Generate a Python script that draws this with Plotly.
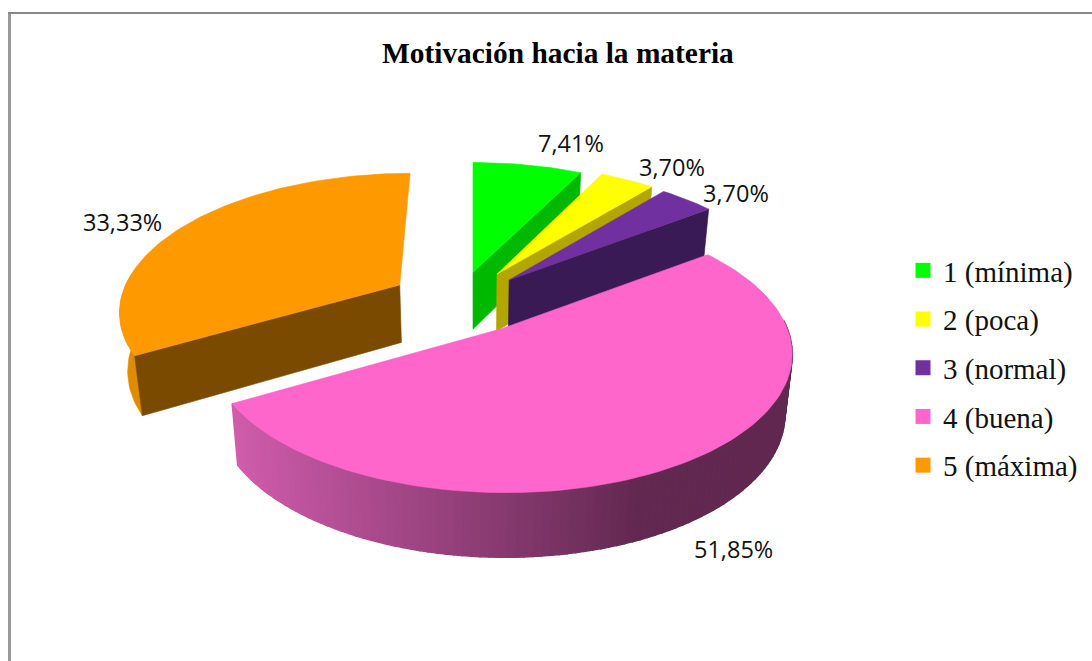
import math
import plotly.graph_objects as go

# ---- data ----
categories = ["1 (mínima)", "2 (poca)", "3 (normal)", "4 (buena)", "5 (máxima)"]
percentages = [7.41, 3.70, 3.70, 51.85, 33.33]

# ---- style ----
top_colors = ["#00ff00", "#ffff00", "#7030a0", "#ff66cc", "#ff9900"]
outer_colors = ["#00c000", "#c0c000", "#3a1a55", None, "#e08c00"]
cut_colors = ["#00b800", "#b3a600", "#3a1a55", None, "#7a4a00"]
cut_side = ["end", "end", "end", None, "start"]
# per-slice explosion in disk units (x to the right, y toward the viewer)
explode = [(0.0, -0.21), (0.087, -0.195), (0.13, -0.15), (0.093, 0.205), (-0.262, -0.112)]
radius_scale = [(1, 1), (1, 1), (1, 1), (0.972, 0.93), (0.98, 0.985)]
label_pos = [(571, 143), (672, 167), (736, 193), (733, 549), (122, 222)]

X0, Y0, A, B, K, DEPTH, BOTTOM_SHRINK = 473, 300, 285, 137, 0.17, 58, 0.977
FONT_SERIF = "Liberation Serif"
FONT_SANS = "Open Sans"


def project(dx, dy, lower=False):
    w = 1 - K * dy
    x = A * dx / w
    y = B * dy / w
    if lower:
        return X0 + x * BOTTOM_SHRINK, Y0 + y + DEPTH / math.sqrt(w)
    return X0 + x, Y0 + y


def rim(i, deg, lower=False):
    t = math.radians(deg)
    ox, oy = explode[i]
    sx, sy = radius_scale[i]
    return project(ox + sx * math.sin(t), oy - sy * math.cos(t), lower)


def apex(i, lower=False):
    return project(*explode[i], lower)


def poly(fig, pts, color, name=None, width=0.6):
    xs = [p[0] for p in pts] + [pts[0][0]]
    ys = [p[1] for p in pts] + [pts[0][1]]
    fig.add_trace(go.Scatter(
        x=xs, y=ys, mode="lines", fill="toself", fillcolor=color,
        line=dict(color=color, width=width), showlegend=False,
        hoverinfo="skip" if name is None else "text", text=name,
    ))


def pink_wall_color(x):
    f = min(max((x - 236) / (640 - 236), 0), 1)
    c0, c1 = (207, 92, 172), (97, 40, 80)
    return "rgb(%d,%d,%d)" % tuple(round(a + (b - a) * f) for a, b in zip(c0, c1))


fig = go.Figure()
total = sum(percentages)
start = 0.0
for i, v in enumerate(percentages):
    end = start + v / total * 360
    n = max(int((end - start) / 1.5), 2)
    steps = [start + (end - start) * j / n for j in range(n + 1)]
    # outer wall: only the part of the rim that faces the viewer
    front = [d for d in steps if 85 <= d <= 275]
    if len(front) >= 2:
        if outer_colors[i] is None:
            for a, b in zip(front[:-1], front[1:]):
                p = [rim(i, a), rim(i, b), rim(i, b, True), rim(i, a, True)]
                poly(fig, p, pink_wall_color(sum(q[0] for q in p) / 4), width=1.5)
        else:
            poly(fig, [rim(i, d) for d in front] + [rim(i, d, True) for d in reversed(front)],
                 outer_colors[i])
    # cut wall
    if cut_side[i]:
        d = end if cut_side[i] == "end" else start
        poly(fig, [apex(i), rim(i, d), rim(i, d, True), apex(i, True)], cut_colors[i])
    # top face
    poly(fig, [apex(i)] + [rim(i, d) for d in steps], top_colors[i],
         "%s: %.2f%%" % (categories[i], v))
    start = end

for name, color in zip(categories, top_colors):
    fig.add_trace(go.Scatter(
        x=[None], y=[None], mode="markers", name=name, legendgroup=name,
        marker=dict(symbol="square", size=15, color=color),
    ))

annotations = [
    dict(x=p[0], y=p[1], text=("%.2f%%" % v).replace(".", ","), showarrow=False,
         font=dict(family=FONT_SANS, size=23.5, color="#111111"))
    for p, v in zip(label_pos, percentages)
]
annotations.append(dict(
    x=558, y=53, text="<b>Motivación hacia la materia</b>", showarrow=False,
    font=dict(family=FONT_SERIF, size=29.4, color="#000000"),
))

fig.update_layout(
    width=1092, height=661, margin=dict(l=0, r=0, t=0, b=0),
    paper_bgcolor="white", plot_bgcolor="white",
    xaxis=dict(range=[0, 1092], visible=False, fixedrange=True),
    yaxis=dict(range=[661, 0], visible=False, fixedrange=True),
    annotations=annotations,
    shapes=[
        dict(type="line", x0=9.5, x1=9.5, y0=12, y1=661, line=dict(color="#999999", width=3)),
        dict(type="line", x0=8, x1=1092, y0=13, y1=13, line=dict(color="#888888", width=2)),
    ],
    legend=dict(
        x=903 / 1092, xanchor="left", y=1 - 245 / 661, yanchor="top",
        font=dict(family=FONT_SERIF, size=29, color="#111111"),
        tracegroupgap=8, bgcolor="rgba(0,0,0,0)",
    ),
)
fig.write_html("out.html", post_script="document.body.style.margin='0';",
               config=dict(displayModeBar=False))
